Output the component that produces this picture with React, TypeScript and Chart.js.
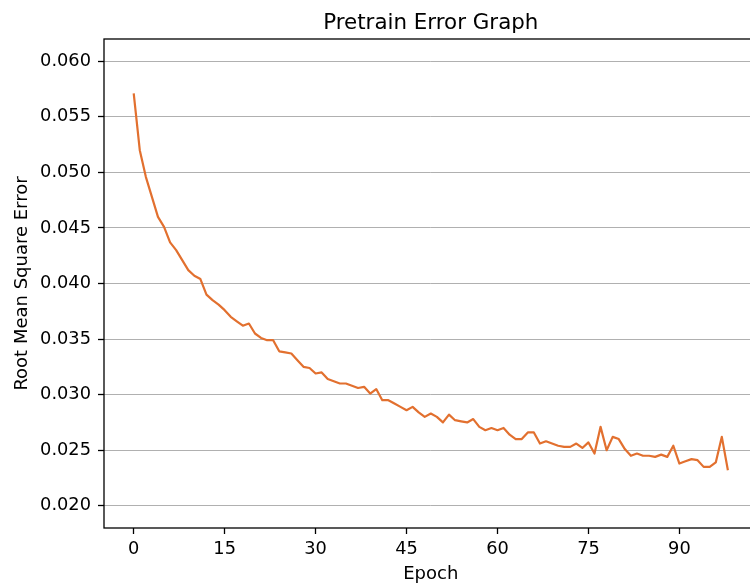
import React, { useEffect, useRef } from 'react';
import { Chart, registerables } from 'chart.js';

Chart.register(...registerables);

const chartTitle = 'Pretrain Error Graph';
const xTitle = 'Epoch';
const yTitle = 'Root Mean Square Error';

const xTicks = [0, 15, 30, 45, 60, 75, 90];
const yTicks = [0.02, 0.025, 0.03, 0.035, 0.04, 0.045, 0.05, 0.055, 0.06];

// RMSE per epoch (epochs 0..98)
const rmse = [
  0.0571, 0.0520, 0.0496, 0.0478, 0.0460, 0.0451, 0.0437, 0.0430, 0.0421, 0.0412,
  0.0407, 0.0404, 0.0390, 0.0385, 0.0381, 0.0376, 0.0370, 0.0366, 0.0362, 0.0364,
  0.0355, 0.0351, 0.0349, 0.0349, 0.0339, 0.0338, 0.0337, 0.0331, 0.0325, 0.0324,
  0.0319, 0.0320, 0.0314, 0.0312, 0.0310, 0.0310, 0.0308, 0.0306, 0.0307, 0.0301,
  0.0305, 0.0295, 0.0295, 0.0292, 0.0289, 0.0286, 0.0289, 0.0284, 0.0280, 0.0283,
  0.0280, 0.0275, 0.0282, 0.0277, 0.0276, 0.0275, 0.0278, 0.0271, 0.0268, 0.0270,
  0.0268, 0.0270, 0.0264, 0.0260, 0.0260, 0.0266, 0.0266, 0.0256, 0.0258, 0.0256,
  0.0254, 0.0253, 0.0253, 0.0256, 0.0252, 0.0257, 0.0247, 0.0271, 0.0250, 0.0262,
  0.0260, 0.0251, 0.0245, 0.0247, 0.0245, 0.0245, 0.0244, 0.0246, 0.0244, 0.0254,
  0.0238, 0.0240, 0.0242, 0.0241, 0.0235, 0.0235, 0.0239, 0.0262, 0.0232,
];

const FONT = '"DejaVu Sans", sans-serif';
const LINE_COLOR = '#e2702f';
const TICK_SIZE = 17.8;
const LABEL_SIZE = 18;
const TITLE_SIZE = 21.4;

export default function App() {
  const ref = useRef<HTMLCanvasElement>(null);

  useEffect(() => {
    if (!ref.current) return;

    const framePlugin = {
      id: 'mplFrame',
      afterDraw(chart: any) {
        const { ctx, chartArea: a } = chart;
        ctx.save();
        ctx.strokeStyle = '#000';
        ctx.lineWidth = 1.3;
        ctx.strokeRect(a.left, a.top, a.right - a.left, a.bottom - a.top);
        ctx.fillStyle = '#000';
        ctx.textAlign = 'center';
        ctx.textBaseline = 'alphabetic';
        ctx.font = `${TITLE_SIZE}px ${FONT}`;
        ctx.fillText(chartTitle, (a.left + a.right) / 2, a.top - 10.4);
        ctx.font = `${LABEL_SIZE}px ${FONT}`;
        ctx.fillText(xTitle, (a.left + a.right) / 2, 579);
        ctx.translate(27, (a.top + a.bottom) / 2);
        ctx.rotate(-Math.PI / 2);
        ctx.fillText(yTitle, 0, 0);
        ctx.restore();
      },
    };

    const chart = new Chart(ref.current, {
      type: 'line',
      data: {
        datasets: [
          {
            data: rmse.map((v, i) => ({ x: i, y: v })),
            borderColor: LINE_COLOR,
            borderWidth: 2.2,
            pointRadius: 0,
            tension: 0,
            borderJoinStyle: 'round',
            fill: false,
          },
        ],
      },
      options: {
        responsive: false,
        devicePixelRatio: 1,
        animation: false,
        layout: { padding: { top: 39, right: 770 - 757.6, left: 0, bottom: 0 } },
        plugins: {
          legend: { display: false },
          tooltip: { enabled: false },
          title: { display: false },
        },
        scales: {
          x: {
            type: 'linear',
            min: -4.9,
            max: 102.9,
            afterFit: (s: any) => {
              s.height = 57;
            },
            afterBuildTicks: (s: any) => {
              s.ticks = xTicks.map((v) => ({ value: v }));
            },
            grid: {
              drawOnChartArea: false,
              drawTicks: true,
              tickLength: 6,
              tickColor: '#000',
              tickWidth: 1.3,
            },
            border: { display: false },
            ticks: {
              color: '#000',
              font: { family: FONT, size: TICK_SIZE },
              padding: 5,
              maxRotation: 0,
              autoSkip: false,
              callback: (v: any) => String(v),
            },
          },
          y: {
            type: 'linear',
            min: 0.018,
            max: 0.062,
            afterFit: (s: any) => {
              s.width = 104;
            },
            afterBuildTicks: (s: any) => {
              s.ticks = yTicks.map((v) => ({ value: v }));
            },
            grid: {
              color: '#b0b0b0',
              lineWidth: 1,
              drawTicks: true,
              tickLength: 6,
              tickColor: '#000',
              tickWidth: 1.3,
            },
            border: { display: false },
            ticks: {
              color: '#000',
              font: { family: FONT, size: TICK_SIZE },
              padding: 7,
              autoSkip: false,
              callback: (v: any) => Number(v).toFixed(3),
            },
          },
        },
      },
      plugins: [framePlugin],
    } as any);

    return () => chart.destroy();
  }, []);

  return (
    <div
      style={{
        position: 'fixed',
        left: 0,
        top: 0,
        width: 750,
        height: 585,
        overflow: 'hidden',
        background: '#fff',
      }}
    >
      <canvas ref={ref} width={770} height={585} style={{ display: 'block', width: 770, height: 585 }} />
    </div>
  );
}
